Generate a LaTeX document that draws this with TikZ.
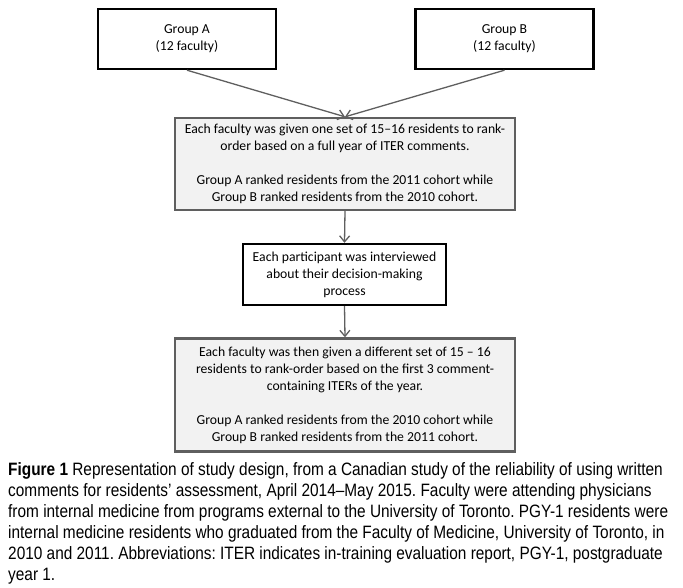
\documentclass[tikz,border=0pt]{standalone}
\usepackage{fontspec}
\setmainfont{Carlito}
\newfontfamily\capfont[FakeStretch=0.86,Ligatures=TeX]{Liberation Sans}
\usetikzlibrary{arrows.meta}
\definecolor{boxgray}{HTML}{F2F2F2}
\definecolor{edgegray}{HTML}{5F5F5F}
\frenchspacing
\begin{document}
\begin{tikzpicture}[x=1pt,y=-1pt,
  boxfont/.style={font=\fontsize{13.7}{17}\selectfont},
  groupbox/.style={draw=black,line width=2.4pt,fill=white,minimum width=178pt,minimum height=60pt,align=center,boxfont},
  graybox/.style={draw=edgegray,line width=2.4pt,fill=boxgray,minimum width=340pt,align=center,boxfont},
  whitebox/.style={draw=black,line width=2.4pt,fill=white,minimum width=203pt,minimum height=61pt,align=center,boxfont},
  conn/.style={draw=edgegray,line width=1.3pt,-{Straight Barb[length=6pt,width=10pt,line width=1.3pt]}}]
\useasboundingbox (0,0) rectangle (683,587);
\node[groupbox] (ga) at (187,39) {Group A\\(12 faculty)};
\node[groupbox] (gb) at (504.5,39) {Group B\\(12 faculty)};
\node[graybox,minimum height=92pt] (b1) at (345,164) {Each faculty was given one set of 15–16 residents to rank-\\order based on a full year of ITER comments.\\[17pt]Group A ranked residents from the 2011 cohort while\\Group B ranked residents from the 2010 cohort.};
\node[whitebox] (b2) at (344.5,274.5) {Each participant was interviewed\\about their decision-making\\process};
\node[graybox,minimum height=113pt] (b3) at (345,395) {Each faculty was then given a different set of 15 – 16\\residents to rank-order based on the first 3 comment-\\containing ITERs of the year.\\[17pt]Group A ranked residents from the 2010 cohort while\\Group B ranked residents from the 2011 cohort.};
\draw[conn] (ga.south) -- (b1.north);
\draw[conn] (gb.south) -- (b1.north);
\draw[conn] (b1.south) -- (b2.north);
\draw[conn] (b2.south) -- (b3.north);
\node[anchor=north west,inner sep=0pt,align=left,font=\capfont\fontsize{17.9}{21}\selectfont] (cap) at (8,462) {\textbf{Figure 1} Representation of study design, from a Canadian study of the reliability of using written\\comments for residents’ assessment, April 2014–May 2015. Faculty were attending physicians\\from internal medicine from programs external to the University of Toronto. PGY-1 residents were\\internal medicine residents who graduated from the Faculty of Medicine, University of Toronto, in\\2010 and 2011. Abbreviations: ITER indicates in-training evaluation report, PGY-1, postgraduate\\year 1.};
\end{tikzpicture}
\end{document}
